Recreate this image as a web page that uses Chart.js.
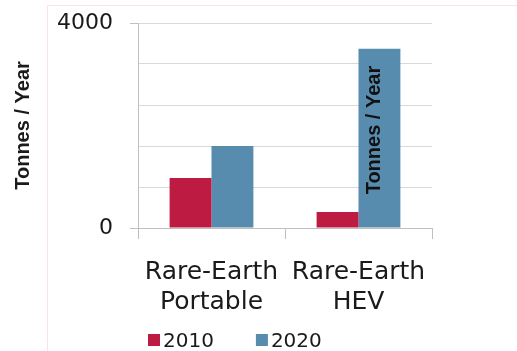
<!DOCTYPE html>
<html>
<head>
<meta charset="utf-8">
<script src="https://cdn.jsdelivr.net/npm/chart.js@4/dist/chart.umd.min.js"></script>
<style>
  html, body { margin: 0; padding: 0; background: #ffffff; }
  #wrap { width: 517px; height: 351px; }
</style>
</head>
<body>
<div id="wrap"><canvas id="c" width="517" height="351"></canvas></div>
<script>
// Categories (two-line labels) and yearly tonnage per series
const categories = [['Rare-Earth', 'Portable'], ['Rare-Earth', 'HEV']];
const seriesNames = ['2010', '2020'];
const values2010 = [975, 310];
const values2020 = [1600, 3500];
const yTickLabels = [0, 4000];
const axisTitle = 'Tonnes / Year';

const RED = '#BE1B42';
const BLUE = '#588CAF';
const GRID = '#D9D9D9';
const AXIS = '#BFBFBF';
const TEXT = '#1a1a1a';

// Faint pink frame behind the chart
const framePlugin = {
  id: 'frame',
  beforeDraw(chart) {
    const ctx = chart.ctx;
    ctx.save();
    ctx.strokeStyle = '#FCE3EA';
    ctx.lineWidth = 1;
    ctx.beginPath();
    ctx.moveTo(47.5, chart.height);
    ctx.lineTo(47.5, 5.5);
    ctx.lineTo(chart.width, 5.5);
    ctx.stroke();
    ctx.restore();
  }
};

// Rotated unit note written inside the tallest bar
const barNotePlugin = {
  id: 'barNote',
  afterDatasetsDraw(chart) {
    const meta = chart.getDatasetMeta(1);
    const el = meta.data[1];
    const ctx = chart.ctx;
    ctx.save();
    ctx.translate(el.x - 5, (el.y + el.base) / 2 - 8);
    ctx.rotate(-Math.PI / 2);
    ctx.font = 'bold 20px "Liberation Sans", Arial, sans-serif';
    ctx.fillStyle = '#111111';
    ctx.textAlign = 'center';
    ctx.textBaseline = 'middle';
    ctx.fillText(axisTitle, 0, 0);
    ctx.restore();
  }
};

// Compact legend with small squares, placed under the category labels
const legendPlugin = {
  id: 'squareLegend',
  afterDraw(chart) {
    const ctx = chart.ctx;
    const area = chart.chartArea;
    ctx.save();
    ctx.font = '20px "DejaVu Sans", Verdana, sans-serif';
    ctx.textBaseline = 'alphabetic';
    let x = area.left + 10;
    const boxTop = 334;
    const baseline = 347;
    chart.data.datasets.forEach((ds) => {
      ctx.fillStyle = ds.backgroundColor;
      ctx.fillRect(x, boxTop, 12, 12);
      ctx.fillStyle = TEXT;
      ctx.fillText(ds.label, x + 15, baseline);
      x += 15 + ctx.measureText(ds.label).width + 42;
    });
    ctx.restore();
  }
};

new Chart(document.getElementById('c'), {
  type: 'bar',
  data: {
    labels: categories,
    datasets: [
      { label: seriesNames[0], data: values2010, backgroundColor: RED },
      { label: seriesNames[1], data: values2020, backgroundColor: BLUE }
    ]
  },
  options: {
    responsive: false,
    animation: false,
    devicePixelRatio: 1,
    layout: { padding: { left: 10, right: 85, top: 23, bottom: 16 } },
    datasets: { bar: { categoryPercentage: 0.57, barPercentage: 1.0 } },
    plugins: {
      legend: { display: false },
      tooltip: { enabled: false }
    },
    scales: {
      x: {
        grid: {
          offset: true,
          drawOnChartArea: false,
          tickLength: 11,
          color: AXIS
        },
        border: { color: AXIS },
        ticks: {
          autoSkip: false,
          maxRotation: 0,
          padding: 18,
          color: TEXT,
          font: { family: '"DejaVu Sans", Verdana, sans-serif', size: 25, lineHeight: 1.2 }
        }
      },
      y: {
        min: 0,
        max: 4000,
        afterFit(scale) {
          scale.width = 128;
          scale.paddingTop = 0;
          scale.paddingBottom = 0;
        },
        grid: {
          color: GRID,
          tickLength: 8,
          tickColor: (c) => (c.tick && yTickLabels.includes(c.tick.value)) ? AXIS : 'rgba(0,0,0,0)'
        },
        border: { color: AXIS },
        ticks: {
          stepSize: 800,
          padding: 17,
          color: TEXT,
          font: { family: '"DejaVu Sans", Verdana, sans-serif', size: 22 },
          callback: (v) => yTickLabels.includes(v) ? String(v) : ''
        },
        title: {
          display: true,
          text: axisTitle,
          color: TEXT,
          padding: { top: 1, bottom: 0 },
          font: { family: '"Liberation Sans", Arial, sans-serif', size: 20, weight: 'bold' }
        }
      }
    }
  },
  plugins: [framePlugin, barNotePlugin, legendPlugin]
});
</script>
</body>
</html>
